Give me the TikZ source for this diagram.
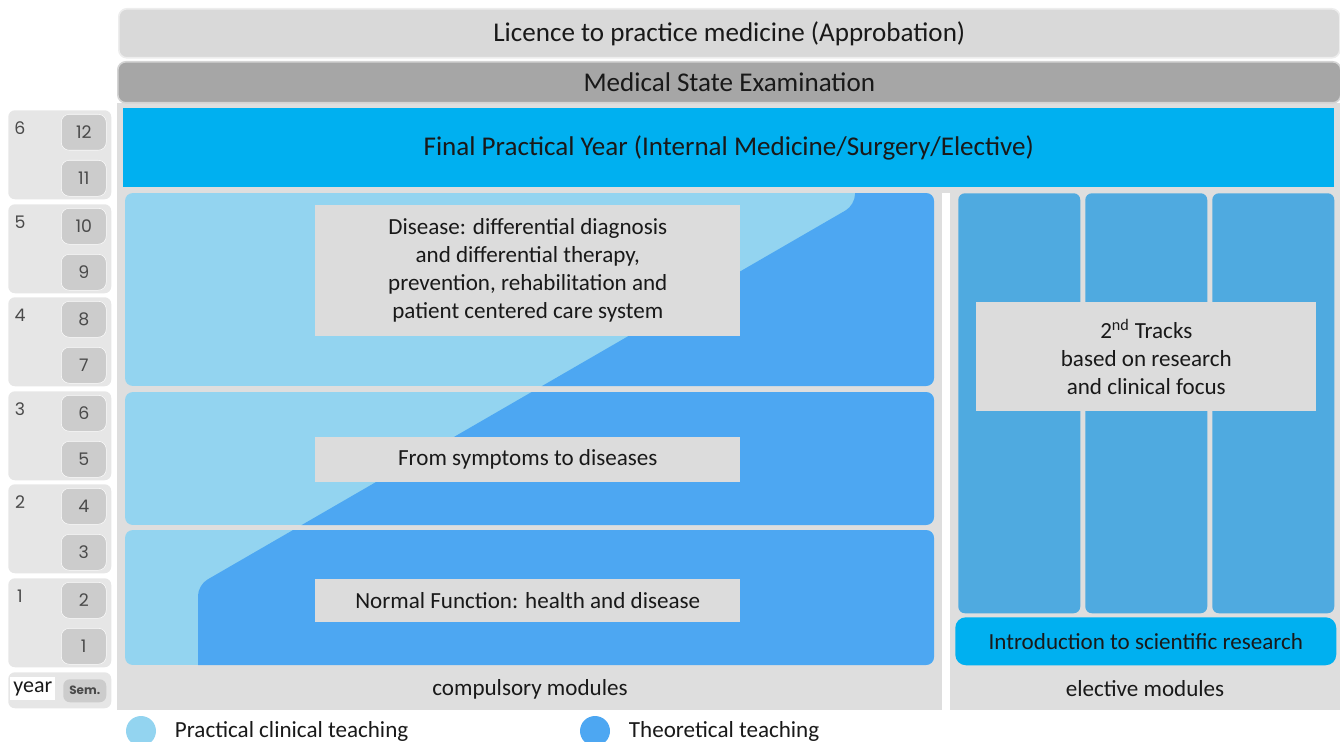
\documentclass[tikz,border=0pt]{standalone}
\usepackage{fontspec}
\setmainfont{Carlito}
\newfontfamily\digitfont{Poppins}
\usepackage{tikz}
\usetikzlibrary{positioning}
\definecolor{licencegray}{HTML}{D9D9D9}
\definecolor{licenceedge}{HTML}{EDEDED}
\definecolor{examgray}{HTML}{A6A6A6}
\definecolor{examedge}{HTML}{D4D4D4}
\definecolor{framegray}{HTML}{DEDEDE}
\definecolor{finalblue}{HTML}{00B0F0}
\definecolor{practical}{HTML}{93D4F0}
\definecolor{theory}{HTML}{4DA7F2}
\definecolor{elective}{HTML}{4FAAE0}
\definecolor{topicgray}{HTML}{DCDCDC}
\definecolor{yeargray}{HTML}{E6E6E6}
\definecolor{semgray}{HTML}{CCCCCC}
\definecolor{digitgray}{HTML}{4A4A4A}
\tikzset{
  every node/.style={
    font=\fontsize{17.3}{21}\selectfont,
    text=black!90
  },
  panel/.style 2 args={
    shape=rectangle,
    minimum width=#1*0.75pt,
    minimum height=#2*0.75pt,
    inner sep=0pt,
    anchor=north west,
    align=center
  },
  topic/.style={
    fill=topicgray
  },
  headline/.style={
    font=\fontsize{20.3}{20.3}\selectfont
  },
  track/.style={
    panel={122}{420},
    fill=elective,
    rounded corners=5pt
  },
  year/.style={
    panel={103}{89},
    fill=yeargray,
    rounded corners=5pt
  },
  yearnum/.style={
    font=\digitfont\fontsize{13}{13}\selectfont,
    text=digitgray
  },
  sem/.style={
    panel={45}{36},
    fill=semgray,
    draw=white!95!semgray,
    rounded corners=6pt,
    font=\digitfont\fontsize{13}{13}\selectfont,
    text=digitgray
  },
  legend/.style={
    shape=circle,
    minimum size=22.5pt,
    inner sep=0pt
  }
}
\newcommand{\theorywedge}{%
  \fill[theory, rounded corners=8pt] (198,720) -- (198,585) -- (855,205) -- (855,170) -- (980,170) -- (980,720) -- cycle;}

\begin{document}
\begin{tikzpicture}[x=0.75pt,y=-0.75pt]
  \useasboundingbox (0,0) rectangle (1340,742);
  % grey frame
  \fill[framegray] (117,103) rectangle (1340,710);
  \fill[white] (942,193) rectangle (950,710);
  % exams on top
  \node[panel={1221}{49}, fill=licencegray, draw=licenceedge, line width=1.2pt, rounded corners=6pt, headline] (licence) at (118,8) {Licence to practice medicine (Approbation)};
  \node[panel={1223}{41}, fill=examgray, draw=examedge, line width=1.2pt, rounded corners=6pt, headline] (exam) at (117,61) {Medical State Examination};
  \node[panel={1211}{79}, fill=finalblue, headline] (final) at (123,108) {Final Practical Year (Internal Medicine/Surgery/Elective)};
  % compulsory modules
  \begin{scope}
    \clip[rounded corners=6pt] (125,193) rectangle (934,386);
    \fill[practical] (125,193) rectangle (934,386);
    \theorywedge
  \end{scope}
  \begin{scope}
    \clip[rounded corners=6pt] (125,392) rectangle (934,525);
    \fill[practical] (125,392) rectangle (934,525);
    \theorywedge
  \end{scope}
  \begin{scope}
    \clip[rounded corners=6pt] (125,530) rectangle (934,665);
    \fill[practical] (125,530) rectangle (934,665);
    \theorywedge
  \end{scope}
  \node[panel={425}{131}, topic] (disease) at (315,205) {Disease: differential diagnosis\\and differential therapy,\\prevention, rehabilitation and\\patient centered care system};
  \node[panel={425}{45}, topic] (symptoms) at (315,437) {From symptoms to diseases};
  \node[panel={425}{43}, topic] (normal) at (315,579) {Normal Function: health and disease};
  % elective modules
  \node[track] (track1) at (958,193) {};
  \node[track] (track2) at (1085,193) {};
  \node[track] (track3) at (1212,193) {};
  \node[panel={340}{109}, topic] (tracks) at (976,302) {2\textsuperscript{nd} Tracks\\based on research\\and clinical focus};
  \node[panel={381}{48}, fill=finalblue, rounded corners=8pt] (intro) at (955,617) {Introduction to scientific research};
  \node (compulsory) at (530,689) {compulsory modules};
  \node (electives) at (1145,689) {elective modules};
  % years and semesters
  \node[year] (y6) at (8,110) {};
  \node[year] (y5) at (8,204) {};
  \node[year] (y4) at (8,297) {};
  \node[year] (y3) at (8,391) {};
  \node[year] (y2) at (8,484) {};
  \node[year] (y1) at (8,578) {};
  \node[yearnum] at (20,128) {6};
  \node[yearnum] at (20,222) {5};
  \node[yearnum] at (20,315) {4};
  \node[yearnum] at (20,409) {3};
  \node[yearnum] at (20,502) {2};
  \node[yearnum] at (20,596) {1};
  \node[sem] (s12) at (61,114) {12};
  \node[sem] (s11) at (61,160) {11};
  \node[sem] (s10) at (61,208) {10};
  \node[sem] (s9) at (61,254) {9};
  \node[sem] (s8) at (61,301) {8};
  \node[sem] (s7) at (61,347) {7};
  \node[sem] (s6) at (61,395) {6};
  \node[sem] (s5) at (61,441) {5};
  \node[sem] (s4) at (61,488) {4};
  \node[sem] (s3) at (61,534) {3};
  \node[sem] (s2) at (61,582) {2};
  \node[sem] (s1) at (61,628) {1};
  \node[panel={103}{36}, fill=yeargray, rounded corners=5pt] (yearsem) at (8,672) {};
  \node[panel={45}{23}, fill=white, font=\fontsize{16.5}{16.5}\selectfont] (yearkey) at (10,677) {year};
  \node[panel={43}{23}, fill=semgray, rounded corners=5pt, font=\digitfont\fontsize{9}{9}\selectfont\bfseries, text=digitgray] (semkey) at (63,679) {Sem.};
  % legend
  \node[legend, fill=practical] (legprac) at (141,731) {};
  \node[right=10.5pt of legprac] (legpractext) {Practical clinical teaching};
  \node[legend, fill=theory] (legtheo) at (595,731) {};
  \node[right=10.5pt of legtheo] (legtheotext) {Theoretical teaching};
\end{tikzpicture}
\end{document}
